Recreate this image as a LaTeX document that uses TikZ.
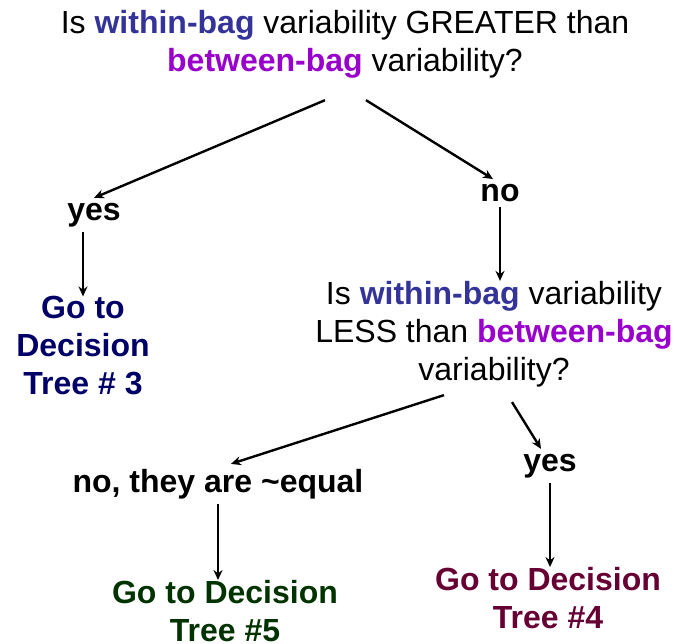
\documentclass[tikz,border=0pt]{standalone}
\usepackage{fontspec}
\setmainfont{Liberation Sans}
\usetikzlibrary{arrows.meta}
\definecolor{withinc}{HTML}{333399}
\definecolor{betweenc}{HTML}{9900CC}
\definecolor{treethree}{HTML}{000066}
\definecolor{treefive}{HTML}{003300}
\definecolor{treefour}{HTML}{660033}
\newcommand{\within}{\textcolor{withinc}{\textbf{within-bag}}}
\newcommand{\between}{\textcolor{betweenc}{\textbf{between-bag}}}
\begin{document}
\begin{tikzpicture}[x=1pt,y=-1pt,>={Stealth[length=10pt,width=9pt]},
  txt/.style={align=center,inner sep=0pt,font=\fontsize{32}{38}\selectfont},
  ans/.style={txt,inner sep=5pt,font=\fontsize{32}{38}\selectfont\bfseries},
  arr/.style={->,line width=2.4pt}]
  \useasboundingbox (0,0) rectangle (685,644);

  % questions
  \node[txt] (q1) at (345,44) {Is \within{} variability GREATER than\\ \between{} variability?};
  \node[txt] (q2) at (494,334) {Is \within{} variability\\ LESS than \between\\ variability?};

  % answers
  \node[ans] (yes1) at (94,215) {yes};
  \node[ans] (no1) at (500,193) {no};
  \node[ans] (eq) at (218,484) {no, they are \textasciitilde equal};
  \node[ans] (yes2) at (550,466) {yes};

  % decision trees
  \node[ans,inner sep=0pt,text=treethree] (dt3) at (83,346) {Go to\\ Decision\\ Tree \# 3};
  \node[ans,inner sep=0pt,text=treefive] (dt5) at (225,611) {Go to Decision\\ Tree \#5};
  \node[ans,inner sep=0pt,text=treefour] (dt4) at (548,598) {Go to Decision\\ Tree \#4};

  % arrows
  \draw[arr] ([xshift=-20pt,yshift=-22pt]q1.south) -- (yes1.north);
  \draw[arr] ([xshift=21pt,yshift=-22pt]q1.south) -- ([xshift=-7pt]no1.north);
  \draw[arr] (yes1.south -| dt3.north) -- (dt3.north);
  \draw[arr] (no1.south) -- (no1.south |- q2.north);
  \draw[arr] ([xshift=-50pt,yshift=-8pt]q2.south) -- ([xshift=13pt]eq.north);
  \draw[arr] ([xshift=18pt,yshift=-15pt]q2.south) -- ([xshift=-9pt]yes2.north);
  \draw[arr] (eq.south) -- (eq.south |- dt5.north);
  \draw[arr] (yes2.south) -- (yes2.south |- dt4.north);
\end{tikzpicture}
\end{document}
